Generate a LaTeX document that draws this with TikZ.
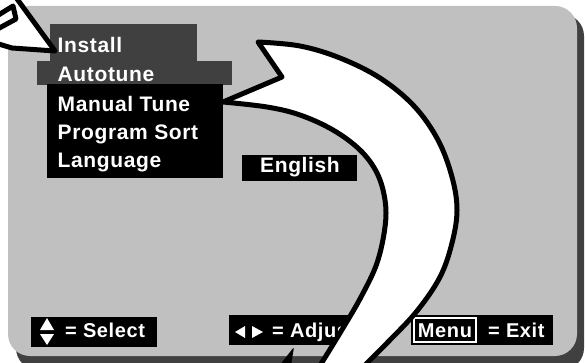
\documentclass[tikz,border=0pt]{standalone}
\usepackage{fontspec}
\setmainfont{Liberation Sans}[LetterSpace=3]
\definecolor{panelgray}{HTML}{C0C0C0}
\definecolor{darkbox}{HTML}{404040}
\tikzset{
  osd/.style={text=white,inner sep=0pt,font=\bfseries\fontsize{21}{21}\selectfont},
  osdsmall/.style={text=white,inner sep=0pt,font=\bfseries\fontsize{20}{20}\selectfont},
  bigarrow/.style={fill=white,draw=black,line width=5pt,line join=round},
  outline/.style={draw=black,line width=5pt,line join=round},
  tri/.style={fill=white}
}
\begin{document}
\begin{tikzpicture}[x=1pt,y=-1pt]
\useasboundingbox (0,0) rectangle (585,363);
\fill[white] (0,0) rectangle (585,363);
\begin{scope}
\clip (0,0) rectangle (585,363);
% panel and shadow
\fill[darkbox,rounded corners=22pt] (16,14) rectangle (584,370);
\fill[panelgray,rounded corners=22pt] (8,6) rectangle (577,356);
% menu boxes
\fill[darkbox] (50,24) rectangle (197,62);
\fill[darkbox] (37,61) rectangle (232,85);
\fill[black] (47,84) rectangle (223,178);
\node[osd,anchor=base west] (install) at (57.5,53) {Install};
\node[osd,anchor=base west] (autotune) at (57.5,82) {Autotune};
\node[osd,anchor=base west] (manual) at (57.5,112) {Manual Tune};
\node[osd,anchor=base west] (sort) at (57.5,140) {Program Sort};
\node[osd,anchor=base west] (lang) at (57.5,168) {Language};
% English
\fill[black] (242,155) rectangle (357,181);
\node[osd,anchor=base] (english) at (300,173) {English};
% bottom bar: select
\fill[black] (31,317) rectangle (157,347);
\fill[tri] (40,330) -- (54,330) -- (47,318) -- cycle;
\fill[tri] (40,334) -- (54,334) -- (47,345) -- cycle;
\node[osdsmall,anchor=base west] (select) at (65,337) {= Select};
% adjust
\fill[black] (229,315) rectangle (362,345);
\fill[tri] (245,326) -- (245,338) -- (235,332) -- cycle;
\fill[tri] (252,326) -- (252,338) -- (263,332) -- cycle;
\node[osdsmall,anchor=base west] (adjust) at (272,337) {= Adjust};
% exit
\fill[black] (411,315) rectangle (553,345);
\draw[white,line width=2pt] (414,318) rectangle (476,342);
\node[osdsmall,anchor=base] (menu) at (445,337) {Menu};
\node[osdsmall,anchor=base west] (exit) at (488,337) {= Exit};
% small spike at bottom
\fill[black,rounded corners=2pt] (279,366) -- (294,347) -- (291,366) -- cycle;
% big curved arrow
\draw[bigarrow] (223,102) -- (282,77) -- (258,42)
  -- plot[smooth,tension=0.6] coordinates {(258,42) (300,46) (340,58) (380,78) (414,106) (438,140) (452,177) (457,210) (452,243) (440,277) (417,311) (388,342) (358,372)}
  -- (316,372)
  -- plot[smooth,tension=0.6] coordinates {(316,372) (340,333) (361,297) (377,263) (385,227) (385,200) (377,173) (360,150) (333,130) (300,115) (267,107) (223,102)}
  -- cycle;
% small arrow top-left
\fill[white] (-8,-8) -- (12,-8) -- (55,51) -- (12,48) -- (-8,42) -- cycle;
\draw[outline] (12,-8) -- (55,51) -- (12,48) -- (-8,42);
\draw[outline] (-8,19) -- (13,6) -- (16,19) -- (-8,32);
\end{scope}
\end{tikzpicture}
\end{document}
